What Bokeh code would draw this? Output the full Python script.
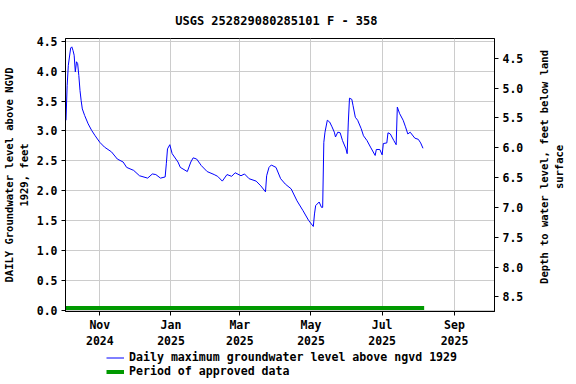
import math
import pandas as pd
from bokeh.plotting import figure
from bokeh.layouts import column, row
from bokeh.models import (Range1d, LinearAxis, FixedTicker, Legend, LegendItem,
                          NumeralTickFormatter)
from bokeh.core.properties import value
from bokeh.embed import file_html
from bokeh.resources import INLINE

# ---- data ----
dates = ["2024-10-03", "2024-10-04", "2024-10-05", "2024-10-07", "2024-10-08", "2024-10-09",
         "2024-10-10", "2024-10-11", "2024-10-12", "2024-10-13", "2024-10-14", "2024-10-15",
         "2024-10-16", "2024-10-17", "2024-10-19", "2024-10-22", "2024-10-25", "2024-10-28",
         "2024-11-01", "2024-11-05", "2024-11-11", "2024-11-16", "2024-11-21", "2024-11-24",
         "2024-11-30", "2024-12-05", "2024-12-12", "2024-12-16", "2024-12-19", "2024-12-23",
         "2024-12-27", "2024-12-28", "2024-12-29", "2024-12-31", "2025-01-02", "2025-01-07",
         "2025-01-09", "2025-01-15", "2025-01-18", "2025-01-20", "2025-01-23", "2025-01-27",
         "2025-02-01", "2025-02-07", "2025-02-10", "2025-02-14", "2025-02-18", "2025-02-22",
         "2025-02-25", "2025-03-02", "2025-03-05", "2025-03-09", "2025-03-15", "2025-03-19",
         "2025-03-23", "2025-03-24", "2025-03-26", "2025-03-28", "2025-04-01", "2025-04-05",
         "2025-04-09", "2025-04-14", "2025-04-19", "2025-04-24", "2025-04-29", "2025-05-03",
         "2025-05-04", "2025-05-05", "2025-05-08", "2025-05-10", "2025-05-11", "2025-05-12",
         "2025-05-13", "2025-05-15", "2025-05-17", "2025-05-19", "2025-05-21", "2025-05-22",
         "2025-05-24", "2025-05-26", "2025-05-28", "2025-05-31", "2025-06-01", "2025-06-02",
         "2025-06-03", "2025-06-05", "2025-06-06", "2025-06-08", "2025-06-10", "2025-06-13",
         "2025-06-15", "2025-06-18", "2025-06-21", "2025-06-25", "2025-06-26", "2025-06-29",
         "2025-07-01", "2025-07-02", "2025-07-05", "2025-07-06", "2025-07-08", "2025-07-11",
         "2025-07-13", "2025-07-14", "2025-07-16", "2025-07-19", "2025-07-21", "2025-07-23",
         "2025-07-25", "2025-07-29", "2025-08-01", "2025-08-03", "2025-08-05"]
levels = [3.18, 3.76, 4.10, 4.39, 4.41, 4.35,
          4.27, 3.99, 4.16, 4.13, 3.93, 3.68,
          3.51, 3.37, 3.26, 3.12, 3.01, 2.92,
          2.81, 2.73, 2.65, 2.53, 2.48, 2.39,
          2.34, 2.25, 2.21, 2.28, 2.27, 2.21,
          2.23, 2.45, 2.70, 2.77, 2.62, 2.48,
          2.39, 2.32, 2.48, 2.55, 2.53, 2.42,
          2.32, 2.27, 2.24, 2.16, 2.27, 2.24,
          2.30, 2.25, 2.28, 2.20, 2.16, 2.08,
          1.98, 2.25, 2.39, 2.43, 2.39, 2.20,
          2.11, 2.03, 1.83, 1.67, 1.50, 1.40,
          1.61, 1.75, 1.81, 1.72, 1.72, 2.81,
          2.98, 3.18, 3.15, 3.07, 2.98, 2.90,
          2.98, 2.97, 2.84, 2.70, 2.62, 3.15,
          3.55, 3.53, 3.43, 3.23, 3.18, 3.04,
          2.92, 2.84, 2.73, 2.59, 2.69, 2.69,
          2.60, 2.79, 2.80, 2.97, 2.95, 2.84,
          2.77, 3.40, 3.29, 3.18, 3.07, 2.95,
          2.98, 2.88, 2.86, 2.80, 2.71]

approved_dates = ["2024-10-01", "2025-08-06"]
approved_level = [0.035, 0.035]

x_tick_dates = ["2024-11-01", "2025-01-01", "2025-03-01", "2025-05-01", "2025-07-01", "2025-09-01"]
x_tick_labels = ["Nov\n2024", "Jan\n2025", "Mar\n2025", "May\n2025", "Jul\n2025", "Sep\n2025"]
left_ticks = [0.0, 0.5, 1.0, 1.5, 2.0, 2.5, 3.0, 3.5, 4.0, 4.5]
right_ticks = [4.5, 5.0, 5.5, 6.0, 6.5, 7.0, 7.5, 8.0, 8.5]
land_surface_offset = 8.72  # depth = offset - level

title_text = "USGS 252829080285101 F  - 358"
left_label = "DAILY Groundwater level above NGVD\n1929, feet"
right_label = "Depth to water level, feet below land\nsurface"
series_labels = ["Daily maximum groundwater level above ngvd 1929", "Period of approved data"]

FONT = "DejaVu Sans Mono"
BLUE = "#0000FF"
GREEN = "#009900"

x = pd.to_datetime(dates)
xa = pd.to_datetime(approved_dates)

x_start = pd.Timestamp("2024-10-02 14:00")
x_end = pd.Timestamp("2025-10-05 07:00")
y0, y1 = -0.025, 4.55

FW, FH = 429, 273
BL, BR, BT, BB = 56, 42, 31, 35

p = figure(frame_width=FW, frame_height=FH, x_axis_type="datetime", output_backend="svg",
           toolbar_location=None, x_range=Range1d(x_start, x_end),
           y_range=Range1d(y0, y1),
           min_border_left=BL, min_border_right=BR, min_border_top=BT,
           min_border_bottom=BB)

p.title.text = title_text
p.title.align = "center"
p.title.text_font = FONT
p.title.text_font_size = "12px"
p.title.text_font_style = "bold"
p.title.text_color = "black"
p.title.standoff = 22

p.extra_y_ranges = {"depth": Range1d(land_surface_offset - y0, land_surface_offset - y1)}

p.line(xa, approved_level, line_color=GREEN, line_width=4)
p.line(x, levels, line_color=BLUE, line_width=1)

tick_ms = [pd.Timestamp(d).value // 10**6 for d in x_tick_dates]
p.xaxis.ticker = FixedTicker(ticks=tick_ms)
p.xaxis.major_label_overrides = {t: l for t, l in zip(tick_ms, x_tick_labels)}
p.xaxis.minor_tick_line_color = None

p.yaxis.ticker = FixedTicker(ticks=left_ticks)
p.yaxis.formatter = NumeralTickFormatter(format="0.0")
p.yaxis.minor_tick_line_color = None
p.yaxis.axis_label = left_label

right = LinearAxis(y_range_name="depth", ticker=FixedTicker(ticks=right_ticks),
                   formatter=NumeralTickFormatter(format="0.0"))
right.minor_tick_line_color = None
p.add_layout(right, "right")

for ax in [p.xaxis[0], p.yaxis[0], right]:
    ax.major_label_text_font = FONT
    ax.major_label_text_font_size = "11.5px"
    ax.major_label_text_font_style = "bold"
    ax.major_label_text_color = "black"
    ax.axis_label_text_font = FONT
    ax.axis_label_text_font_size = "10.5px"
    ax.axis_label_text_font_style = "bold"
    ax.axis_label_text_color = "black"
    ax.axis_line_color = "black"
    ax.major_tick_line_color = "black"
    ax.major_tick_out = 4
    ax.major_tick_in = 0
    ax.axis_label_standoff = 4
    ax.major_label_standoff = 4

p.xaxis.major_label_standoff = 2

p.xgrid.grid_line_color = "#CCCCCC"
p.ygrid.grid_line_color = "#CCCCCC"
p.outline_line_color = "black"
p.outline_line_width = 1
p.background_fill_color = "white"

# ---- right-hand axis title (reads bottom to top, like the reference) ----
lab = figure(frame_width=33, frame_height=FH, output_backend="svg", toolbar_location=None,
             x_range=Range1d(0, 1), y_range=Range1d(y0, y1),
             min_border_left=0, min_border_right=0, min_border_top=BT, min_border_bottom=BB)
lab.axis.visible = False
lab.grid.visible = False
lab.outline_line_color = None
lab.title.visible = False
lab.text(x=[0.44], y=[2.28], text=[right_label], angle=math.pi / 2,
         text_align="center", text_baseline="middle",
         text_font=value(FONT), text_font_size="10.5px", text_font_style="bold",
         text_color="black", text_line_height=1.25)

# ---- legend strip below the chart ----
leg = figure(frame_width=FW, frame_height=27, output_backend="svg", toolbar_location=None,
             x_range=Range1d(0, 1), y_range=Range1d(0, 1),
             min_border_left=BL, min_border_right=BR, min_border_top=0, min_border_bottom=0)
leg.axis.visible = False
leg.grid.visible = False
leg.outline_line_color = None
# legend samples come from the same series, drawn outside this strip's visible range
r_blue = leg.line(x, levels, line_color=BLUE, line_width=1)
r_green = leg.line(xa, approved_level, line_color=GREEN, line_width=4)
leg.y_range = Range1d(10, 11)
legend = Legend(items=[
    LegendItem(label=series_labels[0], renderers=[r_blue]),
    LegendItem(label=series_labels[1], renderers=[r_green]),
], location=(41, 0), orientation="vertical")
legend.label_text_font = FONT
legend.label_text_font_size = "11.6px"
legend.label_text_font_style = "bold"
legend.label_text_color = "black"
legend.border_line_alpha = 0
legend.background_fill_alpha = 0
legend.padding = 0
legend.margin = 0
legend.spacing = 0
legend.glyph_width = 18
legend.glyph_height = 13
legend.label_height = 13
legend.label_standoff = 5
leg.add_layout(legend, "center")

layout = row(column(p, leg, spacing=0), lab, spacing=0)
open("out.html", "w").write(file_html(layout, INLINE))
